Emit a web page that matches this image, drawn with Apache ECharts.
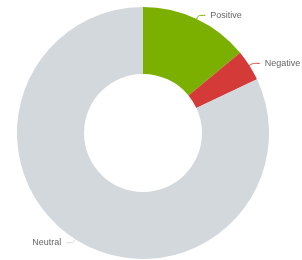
<!DOCTYPE html>
<html>
<head>
<meta charset="utf-8">
<script src="https://cdn.jsdelivr.net/npm/echarts@6/dist/echarts.min.js"></script>
<style>
  html, body { margin: 0; padding: 0; background: #fff; }
  #chart { width: 302px; height: 260px; }
</style>
</head>
<body>
<div id="chart"></div>
<script>
var sentiments = ['Positive', 'Negative', 'Neutral'];
var shares = [14, 4, 82];
var colors = ['#7cb000', '#d33a38', '#d3d8dd'];

var chart = echarts.init(document.getElementById('chart'));

var data = sentiments.map(function (name, i) {
  return { name: name, value: shares[i], itemStyle: { color: colors[i] } };
});

var option = {
  animation: false,
  series: [
    {
      type: 'pie',
      center: [143, 133],
      radius: [59, 126],
      startAngle: 90,
      clockwise: true,
      data: data,
      avoidLabelOverlap: false,
      label: {
        show: true,
        color: '#666',
        fontSize: 9,
        overflow: 'none',
        fontFamily: 'Liberation Sans, Arial, sans-serif'
      },
      labelLine: {
        show: true,
        length: 4,
        length2: 7,
        smooth: true
      }
    }
  ]
};

chart.setOption(option);
</script>
</body>
</html>
